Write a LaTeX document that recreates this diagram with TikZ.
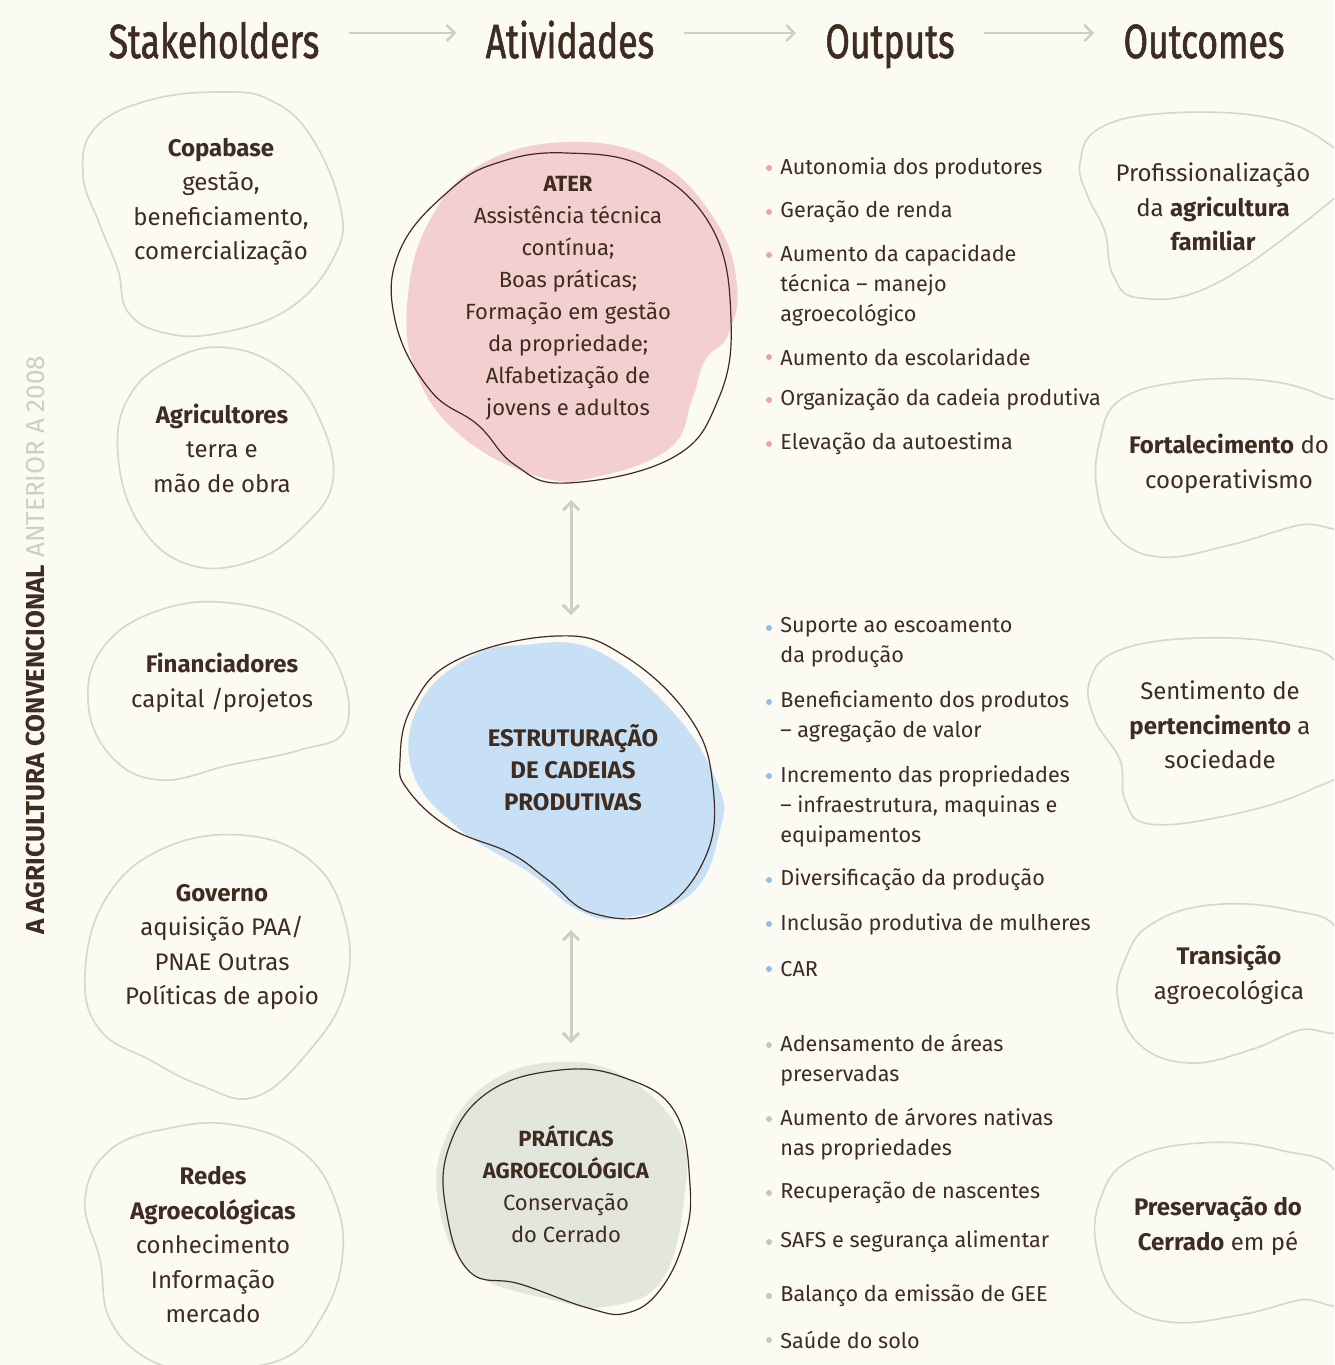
\documentclass[tikz,border=0pt]{standalone}
\usepackage{fontspec}
\setmainfont{Fira Sans}
\newfontfamily\hdrfont[FakeStretch=0.74,FakeBold=1.2]{Fira Sans}
\usetikzlibrary{arrows.meta}

\definecolor{cream}{HTML}{FBFAF3}
\definecolor{inkbrown}{HTML}{3F2C21}
\definecolor{sage}{HTML}{C9D2BE}
\definecolor{blobline}{HTML}{D5D7C8}
\definecolor{pinkfill}{HTML}{F3CFCF}
\definecolor{bluefill}{HTML}{C8E0F5}
\definecolor{grayfill}{HTML}{E3E6DC}
\definecolor{pinkdot}{HTML}{E9A3A9}
\definecolor{bluedot}{HTML}{8DC1E9}
\definecolor{graydot}{HTML}{C3C8BC}

\begin{document}
\begin{tikzpicture}[x=0.5pt,y=-0.5pt,
    hdr/.style={font=\hdrfont\fontsize{24}{24}\selectfont, text=inkbrown, inner sep=0pt, text height=25pt, text depth=0pt, anchor=base},
    flow/.style={draw=sage, line width=1.2pt, shorten <=14.5pt, shorten >=14.5pt, -{Straight Barb[length=4pt,width=8pt]}},
    twoway/.style={draw=sage, line width=1.5pt, {Straight Barb[length=4pt,width=8pt]}-{Straight Barb[length=4pt,width=8pt]}},
    stkblob/.style={draw=blobline, line width=0.8pt},
    midline/.style={draw=inkbrown, line width=0.6pt},
    stktext/.style={font=\fontsize{12}{17.25}\selectfont, text=inkbrown, align=center, inner sep=0pt},
    midtext/.style={font=\fontsize{11}{16}\selectfont, text=inkbrown, align=center, inner sep=0pt},
    item/.style={font=\fontsize{10.8}{15}\selectfont, text=inkbrown, align=left, anchor=west, inner sep=0pt}]

    \useasboundingbox (0,0) rectangle (1334,1365);
    \fill[cream] (0,0) rectangle (1334,1365);
    \clip (0,0) rectangle (1334,1365);

    % Column titles
    \node[hdr] (stk) at (214,58) {Stakeholders};
    \node[hdr] (ativ) at (570,58) {Atividades};
    \node[hdr] (outp) at (890,58) {Outputs};
    \node[hdr] (outc) at (1204,58) {Outcomes};
    \draw[flow] (stk) -- (ativ);
    \draw[flow] (ativ) -- (outp);
    \draw[flow] (outp) -- (outc);

    % Side label
    \node[rotate=90, anchor=west, inner sep=0pt, font=\fontsize{13}{13}\selectfont, text=inkbrown] (side) at (35,935)
        {\textbf{A AGRICULTURA CONVENCIONAL} \textcolor{sage}{ANTERIOR A 2008}};

    % Stakeholders
    \draw[stkblob] plot[smooth cycle, tension=0.7] coordinates {(223,92) (270,100) (310,135) (340,205) (335,255) (290,308) (220,333) (165,333) (128,312) (118,270) (100,225) (83,175) (95,128) (150,100)};
    \draw[stkblob] plot[smooth cycle, tension=0.7] coordinates {(230,348) (285,372) (320,420) (333,480) (305,525) (255,560) (190,565) (140,525) (118,455) (130,395) (175,358)};
    \draw[stkblob] plot[smooth cycle, tension=0.7] coordinates {(230,603) (300,625) (340,670) (345,730) (300,750) (230,765) (160,780) (110,755) (88,700) (105,645) (160,610)};
    \draw[stkblob] plot[smooth cycle, tension=0.7] coordinates {(240,835) (310,860) (345,920) (345,990) (310,1050) (255,1097) (200,1085) (150,1060) (100,1030) (85,975) (105,900) (160,850)};
    \draw[stkblob] plot[smooth cycle, tension=0.7] coordinates {(235,1125) (300,1150) (335,1200) (342,1260) (320,1320) (280,1360) (200,1368) (150,1360) (110,1320) (100,1260) (85,1200) (110,1150) (170,1128)};

    \node[stktext] (copa) at (221,202) {\textbf{Copabase}\\gestão,\\beneficiamento,\\comercialização};
    \node[stktext] (agri) at (222,448) {\textbf{Agricultores}\\terra e\\mão de obra};
    \node[stktext] (fina) at (222,683) {\textbf{Financiadores}\\capital /projetos};
    \node[stktext] (gove) at (222,947) {\textbf{Governo}\\aquisição PAA/\\PNAE Outras\\Políticas de apoio};
    \node[stktext] (rede) at (213,1245) {\textbf{Redes}\\\textbf{Agroecológicas}\\conhecimento\\Informação\\mercado};

    % Activities
    \fill[pinkfill] plot[smooth cycle, tension=0.7] coordinates {(567,142) (655,160) (715,220) (737,285) (728,335) (705,360) (692,400) (670,448) (600,476) (540,477) (460,435) (415,370) (408,295) (430,220) (480,165)};
    \draw[midline] plot[smooth cycle, tension=0.7] coordinates {(567,153) (647,168) (712,228) (731,320) (718,400) (672,458) (567,483) (515,465) (478,425) (430,390) (395,320) (400,250) (450,190) (500,162)};
    \node[midtext] (ater) at (568,298) {\textbf{ATER}\\Assistência técnica\\contínua;\\Boas práticas;\\Formação em gestão\\da propriedade;\\Alfabetização de\\jovens e adultos};

    \fill[bluefill] plot[smooth cycle, tension=0.7] coordinates {(523,645) (595,650) (673,712) (718,785) (720,830) (692,893) (623,918) (578,910) (530,873) (457,827) (412,770) (420,703) (470,657)};
    \draw[midline] plot[smooth cycle, tension=0.7] coordinates {(557,636) (623,655) (690,718) (713,787) (705,858) (657,912) (592,913) (548,880) (510,853) (450,828) (408,790) (400,760) (412,707) (457,660)};
    \node[midtext, font=\bfseries\fontsize{12}{16}\selectfont] (estr) at (573,768) {ESTRUTURAÇÃO\\DE CADEIAS\\PRODUTIVAS};

    \fill[grayfill] plot[smooth cycle, tension=0.7] coordinates {(563,1062) (627,1078) (680,1133) (684,1200) (662,1280) (610,1306) (553,1300) (470,1270) (438,1200) (448,1133) (493,1080)};
    \draw[midline] plot[smooth cycle, tension=0.7] coordinates {(560,1070) (625,1078) (675,1112) (690,1185) (684,1240) (660,1290) (627,1313) (588,1308) (520,1284) (470,1272) (447,1215) (448,1150) (487,1093)};
    \node[midtext] (prat) at (566,1184) {\textbf{PRÁTICAS}\\\textbf{AGROECOLÓGICA}\\Conservação\\do Cerrado};

    % Links between activities
    \coordinate (aterend) at (571,500);
    \coordinate (estrtop) at (571,615);
    \coordinate (estrend) at (571,930);
    \coordinate (prattop) at (571,1043);
    \draw[twoway] (aterend) -- (estrtop);
    \draw[twoway] (estrend) -- (prattop);

    % Outputs
    \foreach \by/\ty/\txt [count=\i] in {168/168/{Autonomia dos produtores}, 212/212/{Geração de renda},
        255/285/{Aumento da capacidade\\técnica – manejo\\agroecológico}, 357/357/{Aumento da escolaridade},
        400/400/{Organização da cadeia produtiva}, 444/444/{Elevação da autoestima}} {
        \fill[pinkdot] (769,\by) circle (3);
        \node[item] (pk\i) at (780,\ty) {\txt};
    }
    \foreach \by/\ty/\txt [count=\i] in {628/643/{Suporte ao escoamento\\da produção}, 702/717/{Beneficiamento dos produtos\\– agregação de valor},
        776/806/{Incremento das propriedades\\– infraestrutura, maquinas e\\equipamentos}, 880/880/{Diversificação da produção},
        924/924/{Inclusão produtiva de mulheres}, 969/969/{CAR}} {
        \fill[bluedot] (769,\by) circle (3);
        \node[item] (bl\i) at (780,\ty) {\txt};
    }
    \foreach \by/\ty/\txt [count=\i] in {1045/1060/{Adensamento de áreas\\preservadas}, 1119/1134/{Aumento de árvores nativas\\nas propriedades},
        1193/1193/{Recuperação de nascentes}, 1242/1242/{SAFS e segurança alimentar},
        1296/1296/{Balanço da emissão de GEE}, 1340/1340/{Saúde do solo}} {
        \fill[graydot] (769,\by) circle (3);
        \node[item] (gr\i) at (780,\ty) {\txt};
    }

    % Outcomes
    \draw[stkblob] plot[smooth cycle, tension=0.7] coordinates {(1080,163) (1100,128) (1170,113) (1270,118) (1330,145) (1350,175) (1320,210) (1213,285) (1140,298) (1113,275) (1105,232) (1088,197)};
    \draw[stkblob] plot[smooth cycle, tension=0.7] coordinates {(1100,440) (1120,400) (1180,382) (1260,380) (1320,395) (1350,420) (1350,520) (1300,525) (1230,545) (1160,557) (1115,535) (1097,490)};
    \draw[stkblob] plot[smooth cycle, tension=0.7] coordinates {(1090,680) (1120,650) (1200,638) (1290,645) (1340,670) (1345,760) (1310,790) (1230,815) (1150,824) (1125,800) (1120,760) (1095,720)};
    \draw[stkblob] plot[smooth cycle, tension=0.7] coordinates {(1125,960) (1150,925) (1210,905) (1290,910) (1340,935) (1345,1025) (1300,1030) (1250,1050) (1190,1063) (1140,1045) (1118,1000)};
    \draw[stkblob] plot[smooth cycle, tension=0.7] coordinates {(1100,1200) (1130,1160) (1200,1143) (1280,1150) (1340,1180) (1345,1295) (1300,1300) (1240,1315) (1170,1322) (1120,1300) (1097,1250)};

    \node[stktext] (prof) at (1213,207) {Profissionalização\\da \textbf{agricultura}\\\textbf{familiar}};
    \node[stktext] (fort) at (1229,464) {\textbf{Fortalecimento} do\\cooperativismo};
    \node[stktext] (sent) at (1220,725) {Sentimento de\\\textbf{pertencimento} a\\sociedade};
    \node[stktext] (tran) at (1229,975) {\textbf{Transição}\\agroecológica};
    \node[stktext] (pres) at (1218,1226) {\textbf{Preservação do}\\\textbf{Cerrado} em pé};

\end{tikzpicture}
\end{document}
